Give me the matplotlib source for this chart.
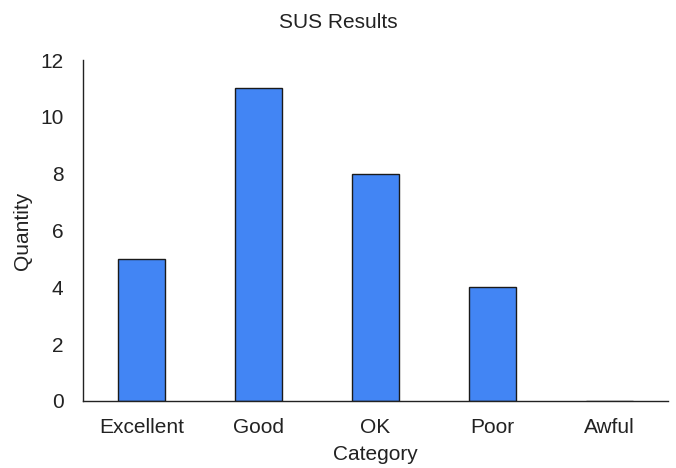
import matplotlib
matplotlib.use("Agg")
import matplotlib.pyplot as plt

categories = ["Excellent", "Good", "OK", "Poor", "Awful"]
quantity = [5, 11, 8, 4, 0]
y_ticks = [0, 2, 4, 6, 8, 10, 12]

plt.rcParams['font.family'] = ['Liberation Sans', 'DejaVu Sans']

fig = plt.figure(figsize=(6.76, 4.68), dpi=100)
ax = fig.add_axes([83 / 676, 67 / 468, 585 / 676, 341 / 468])

ax.bar(range(len(categories)), quantity, width=0.4, color='#4285f4',
       edgecolor='#1a1a1a', linewidth=1)

ax.set_xlim(-0.5, len(categories) - 0.5)
ax.set_ylim(0, 12)
ax.set_xticks(range(len(categories)))
ax.set_xticklabels(categories)
ax.set_yticks(y_ticks)
ax.tick_params(length=0, labelsize=15, colors='#222222')
ax.tick_params(axis='y', pad=14)
ax.tick_params(axis='x', pad=12)

for side in ['top', 'right']:
    ax.spines[side].set_visible(False)
for side in ['left', 'bottom']:
    ax.spines[side].set_linewidth(1)
    ax.spines[side].set_color('#222222')

ax.set_xlabel("Category", fontsize=15, color='#222222', labelpad=6)
ax.set_ylabel("Quantity", fontsize=15, color='#222222', labelpad=6)
fig.text(0.5, 1 - 22 / 468, "SUS Results", ha='center', va='center',
         fontsize=15, color='#222222')

fig.savefig("out.png", dpi=100)
